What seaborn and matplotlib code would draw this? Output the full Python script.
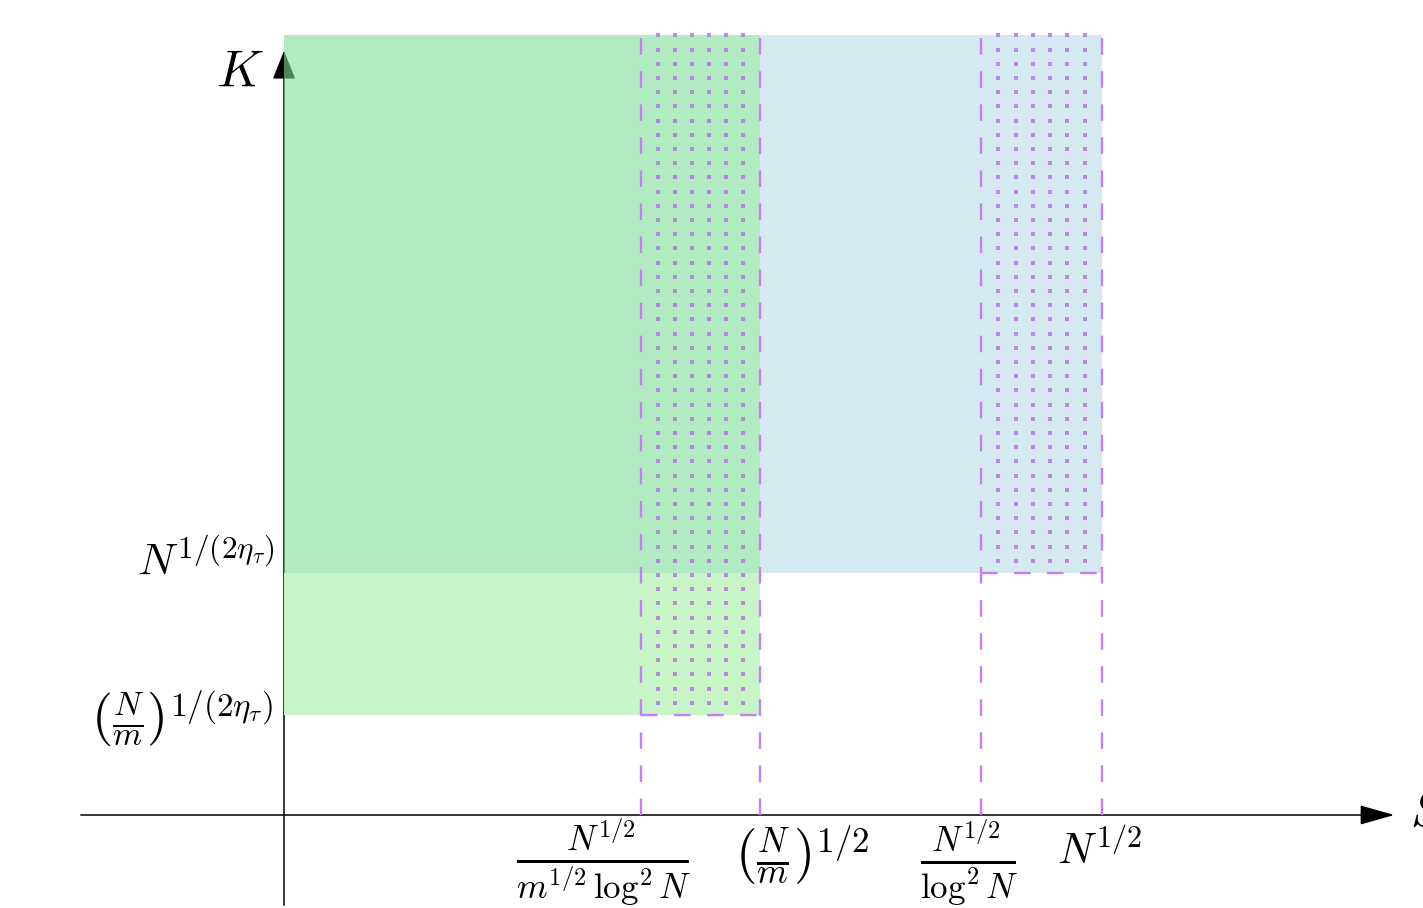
import numpy as np
import pandas as pd
import matplotlib.pyplot as plt
import seaborn as sns
from matplotlib.patches import Rectangle

# thresholds on the S axis and the K axis (arbitrary units)
s_ticks = [3.57, 4.76, 6.97, 8.18]
s_labels = [r'$\frac{N^{1/2}}{m^{1/2}\,\log^2 N}$',
            r'$\left(\frac{N}{m}\right)^{1/2}$',
            r'$\frac{N^{1/2}}{\log^2 N}$',
            r'$N^{1/2}$']
k_ticks = [1.00, 2.42]
k_labels = [r'$\left(\frac{N}{m}\right)^{1/(2\eta_\tau)}$',
            r'$N^{1/(2\eta_\tau)}$']
k_top = 7.80

sns.set_theme(style="white")
plt.rcParams['mathtext.fontset'] = 'cm'
plt.rcParams['font.family'] = ['DejaVu Sans']

fig = plt.figure(figsize=(14.23, 9.08), dpi=100)
ax = fig.add_axes([0, 0, 1, 1])
ax.set_xlim(-2.84, 11.39)
ax.set_ylim(-0.93, 8.15)
ax.axis('off')

# axes with arrows
ax.annotate('', xy=(11.13, 0), xytext=(-2.06, 0),
            arrowprops=dict(arrowstyle='-|>,head_length=0.6,head_width=0.17',
                            mutation_scale=36, lw=1.1, color='black'), zorder=1)
ax.annotate('', xy=(0, 7.67), xytext=(0, -0.93),
            arrowprops=dict(arrowstyle='-|>,head_length=0.5,head_width=0.2',
                            mutation_scale=36, lw=1.1, color='black'), zorder=1)

# coloured regions
ax.add_patch(Rectangle((0, k_ticks[1]), s_ticks[1], k_top - k_ticks[1],
                       facecolor='#7fde98', alpha=0.6, lw=0, zorder=2))
ax.add_patch(Rectangle((0, k_ticks[0]), s_ticks[1], k_ticks[1] - k_ticks[0],
                       facecolor='#c8f5c8', lw=0, zorder=2))
ax.add_patch(Rectangle((s_ticks[1], k_ticks[1]), s_ticks[3] - s_ticks[1], k_top - k_ticks[1],
                       facecolor='#d5eaf0', lw=0, zorder=2))

# dotted bands
purple = '#c77ef5'
bands = [(s_ticks[0], s_ticks[1], k_ticks[0]), (s_ticks[2], s_ticks[3], k_ticks[1])]
pts = []
for a, b, bottom in bands:
    xs = np.linspace(a, b, 8)[1:-1]
    ys = np.arange(bottom + 0.123, k_top, 0.142)
    gx, gy = np.meshgrid(xs, ys)
    pts.append(pd.DataFrame({'s': gx.ravel(), 'k': gy.ravel()}))
dots = pd.concat(pts)
sns.scatterplot(data=dots, x='s', y='k', ax=ax, marker='s', s=5.5, color='#b470e6',
                linewidth=0, alpha=0.8, zorder=3, legend=False)

# dashed boundaries
dash = (0, (7, 7))
ax.vlines(s_ticks, 0, k_top, colors=purple, linestyles=[dash], lw=1.7, zorder=4)
ax.hlines(k_ticks[0], s_ticks[0], s_ticks[1], colors=purple, linestyles=[dash], lw=1.7, zorder=4)
ax.hlines(k_ticks[1], s_ticks[2], s_ticks[3], colors=purple, linestyles=[dash], lw=1.7, zorder=4)

# tick labels
s_offsets = [(-0.37, -0.47), (0.42, -0.41), (-0.12, -0.47), (-0.02, -0.37)]
s_sizes = [36, 36, 36, 31]
for x, lab, (dx, dy), fs in zip(s_ticks, s_labels, s_offsets, s_sizes):
    ax.text(x + dx, dy, lab, fontsize=fs, ha='center', va='center', color='black')
k_offsets = [(-0.11, -0.04), (-0.09, 0.11)]
k_sizes = [34, 32]
for y, lab, (dx, dy), fs in zip(k_ticks, k_labels, k_offsets, k_sizes):
    ax.text(dx, y + dy, lab, fontsize=fs, ha='right', va='center', color='black')

ax.text(-0.44, 7.42, r'$K$', fontsize=37, ha='center', va='center', color='black')
ax.text(11.26, 0.03, r'$S$', fontsize=37, ha='left', va='center', color='black')

fig.savefig('out.png', dpi=100)
